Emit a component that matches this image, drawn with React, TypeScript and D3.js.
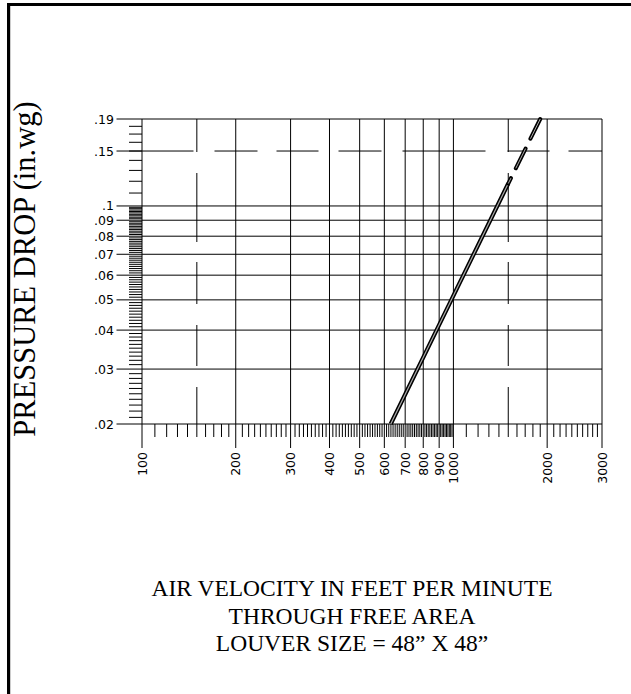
import React from 'react';
import * as d3 from 'd3';

// louver pressure drop curve (log-log, straight line)
const curveVelocity = [629, 883, 1383, 1500];
const curvePressure = [0.02, 0.04, 0.1, 0.118];
const dashedVelocity = [1500, 1900];
const dashedPressure = [0.118, 0.19];

const xTickValues = [100, 200, 300, 400, 500, 600, 700, 800, 900, 1000, 2000, 3000];
const xDashedGrid = [150, 1500];
const yTickValues = [0.02, 0.03, 0.04, 0.05, 0.06, 0.07, 0.08, 0.09, 0.1, 0.19];
const yDashedGrid = [0.15];

const yTitle = 'PRESSURE DROP (in.wg)';
const xTitle = ['AIR VELOCITY IN FEET PER MINUTE', 'THROUGH FREE AREA', 'LOUVER SIZE = 48\u201D X 48\u201D'];

const W = 631;
const H = 694;
const left = 142;
const right = 602;
const top = 119;
const bottom = 424;

const fmtY = (v: number) => String(v).replace(/^0/, '');

const App: React.FC = () => {
  const x = d3.scaleLog().domain([100, 3000]).range([left, right]);
  const y = d3.scaleLog().domain([0.02, 0.19]).range([bottom, top]);

  // minor ticks of log paper
  const xMinor: number[] = [];
  for (let d = 100; d < 1000; d += 100) {
    d3.range(1, 10).forEach(k => xMinor.push(d + k * 10));
  }
  for (let d = 1000; d < 3000; d += 1000) {
    d3.range(1, 10).forEach(k => xMinor.push(d + k * 100));
  }
  const yMinor: number[] = [];
  d3.range(21, 100).forEach(k => { if (k % 10) yMinor.push(k / 1000); });
  d3.range(11, 19).forEach(k => yMinor.push(k / 100));

  const line = d3.line<number>()
    .x(d => x(d))
    .y((_, i) => y(curvePressure[i]));
  // dashed tail drawn from the top down so the pattern starts with a dash
  const dashedRev = dashedVelocity.slice().reverse();
  const dashedPRev = dashedPressure.slice().reverse();
  const dashLine = d3.line<number>()
    .x(d => x(d))
    .y((_, i) => y(dashedPRev[i]));

  const serif = '"Liberation Serif", "Times New Roman", serif';
  const sans = '"DejaVu Sans", sans-serif';

  return (
    <svg width={W} height={H} style={{ position: 'absolute', left: 0, top: 0, background: '#fff' }}>
      {/* page frame */}
      <line x1={8.5} y1={3} x2={8.5} y2={H} stroke="#000" strokeWidth={3} />
      <line x1={7} y1={4.5} x2={W} y2={4.5} stroke="#000" strokeWidth={3} />
      <line x1={10.5} y1={6} x2={10.5} y2={H} stroke="#ccc" strokeWidth={1} />

      {/* y minor ticks */}
      {yMinor.map(v => (
        <line key={'ym' + v} x1={129} x2={left} y1={y(v)} y2={y(v)} stroke="#000" strokeWidth={1} />
      ))}
      {/* x minor ticks */}
      {xMinor.map(v => (
        <line key={'xm' + v} x1={x(v)} x2={x(v)} y1={bottom} y2={437} stroke="#000" strokeWidth={1} />
      ))}

      {/* horizontal grid */}
      {yTickValues.map(v => (
        <line key={'yg' + v} x1={116.5} x2={right} y1={y(v)} y2={y(v)} stroke="#000" strokeWidth={1} />
      ))}
      {yDashedGrid.map(v => (
        <line key={'yd' + v} x1={116.5} x2={right} y1={y(v)} y2={y(v)} stroke="#000" strokeWidth={1}
          strokeDasharray="77,21,43,19,42,20,43,21,83,22,42,19,60" />
      ))}

      {/* vertical grid */}
      {xTickValues.map(v => (
        <line key={'xg' + v} x1={x(v)} x2={x(v)} y1={top} y2={448} stroke="#000" strokeWidth={1} />
      ))}
      {xDashedGrid.map(v => (
        <line key={'xd' + v} x1={x(v)} x2={x(v)} y1={top} y2={bottom} stroke="#000" strokeWidth={1}
          strokeDasharray="33,21,69,20,42,21,41,21,60" />
      ))}

      {/* y labels */}
      {[...yTickValues, ...yDashedGrid].map(v => (
        <text key={'yl' + v} x={114} y={y(v)} dy="0.36em" textAnchor="end"
          fontFamily={sans} fontSize={12.5} fill="#000">{fmtY(v)}</text>
      ))}
      {/* x labels */}
      {xTickValues.map(v => (
        <text key={'xl' + v} transform={`translate(${x(v) + 4.5},452) rotate(-90)`} textAnchor="end"
          fontFamily={sans} fontSize={12.5} fill="#000">{v}</text>
      ))}

      {/* curve: double line */}
      <path d={line(curveVelocity) || ''} fill="none" stroke="#000" strokeWidth={4.2} />
      <path d={line(curveVelocity) || ''} fill="none" stroke="#aaa" strokeWidth={1.2} />
      <path d={dashLine(dashedRev) || ''} fill="none" stroke="#000" strokeWidth={4}
        strokeDasharray="22,11" strokeLinecap="round" />
      <path d={dashLine(dashedRev) || ''} fill="none" stroke="#aaa" strokeWidth={1}
        strokeDasharray="22,11" />

      {/* titles */}
      <text transform="translate(35,269) rotate(-90)" textAnchor="middle" fontFamily={serif}
        fontSize={30.5} fill="#000">{yTitle}</text>
      {xTitle.map((t, i) => (
        <text key={t} x={352} y={596 + i * 27.5} textAnchor="middle" fontFamily={serif}
          fontSize={23.5} fill="#000">{t}</text>
      ))}
    </svg>
  );
};

export default App;
